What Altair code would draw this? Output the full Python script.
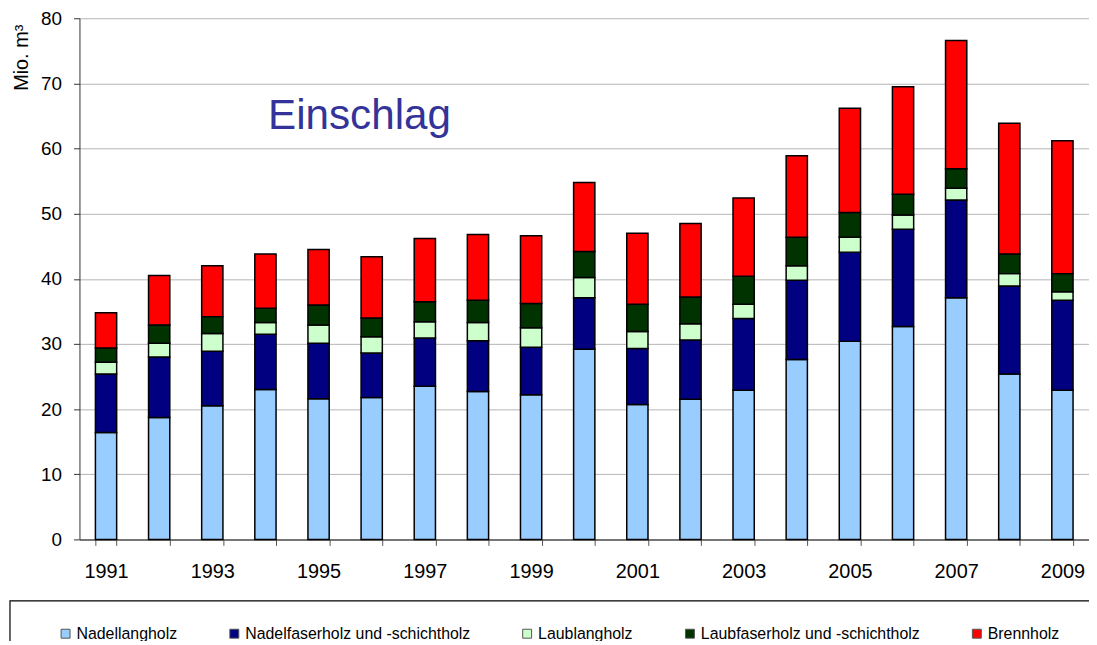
import altair as alt
import pandas as pd

years = [str(y) for y in range(1991, 2010)]
categories = ["Nadellangholz", "Nadelfaserholz und -schichtholz", "Laublangholz",
              "Laubfaserholz und -schichtholz", "Brennholz"]
colors = ["#99CCFF", "#000080", "#CCFFCC", "#003300", "#FF0000"]

nadellang = [16.4, 18.7, 20.5, 23.0, 21.6, 21.8, 23.5, 22.7, 22.2, 29.2,
             20.7, 21.5, 22.9, 27.6, 30.4, 32.7, 37.1, 25.4, 22.9]
nadelfaser = [9.0, 9.3, 8.4, 8.5, 8.5, 6.8, 7.4, 7.8, 7.3, 7.9,
              8.6, 9.1, 11.0, 12.2, 13.7, 14.9, 15.0, 13.5, 13.8]
laublang = [1.8, 2.1, 2.7, 1.8, 2.8, 2.5, 2.5, 2.8, 3.0, 3.1,
            2.6, 2.5, 2.2, 2.2, 2.3, 2.2, 1.8, 1.9, 1.3]
laubfaser = [2.2, 2.8, 2.6, 2.2, 3.1, 2.9, 3.1, 3.4, 3.7, 4.0,
             4.2, 4.1, 4.3, 4.4, 3.8, 3.2, 3.0, 3.0, 2.8]
brennholz = [5.4, 7.6, 7.8, 8.3, 8.5, 9.4, 9.7, 10.1, 10.4, 10.6,
             10.9, 11.3, 12.0, 12.5, 16.0, 16.5, 19.7, 20.1, 20.4]

series = [nadellang, nadelfaser, laublang, laubfaser, brennholz]
rows = []
for ci, (cat, vals) in enumerate(zip(categories, series)):
    for y, v in zip(years, vals):
        rows.append({"Jahr": y, "Sorte": cat, "Wert": v, "ord": ci})
df = pd.DataFrame(rows)

FONT = "Liberation Sans"

bars = alt.Chart(df).mark_bar(stroke="black", strokeWidth=1.5).encode(
    x=alt.X("Jahr:O", sort=years, title=None,
            scale=alt.Scale(paddingInner=0.6, paddingOuter=0.3),
            axis=alt.Axis(labelAngle=0, tickBand="extent", tickSize=6,
                          labelExpr="parseInt(datum.value) % 2 == 1 ? datum.value : ''",
                          labelFontSize=20, labelPadding=16, labelColor="black",
                          domainColor="#555555", domainWidth=1.5,
                          tickColor="#555555", grid=False)),
    y=alt.Y("Wert:Q", stack="zero",
            scale=alt.Scale(domain=[0, 80], nice=False),
            axis=alt.Axis(values=list(range(0, 81, 10)), title="Mio. m³",
                          titleFontSize=20, titleFontWeight="normal", titleColor="black",
                          titleAngle=270, titleAlign="right", titleBaseline="middle",
                          titleX=-58, titleY=6,
                          labelFontSize=19, labelPadding=12, labelColor="black",
                          tickSize=6, tickColor="#333333",
                          domainColor="#333333", domainWidth=1,
                          gridColor="#B4B4B4", gridWidth=1)),
    color=alt.Color("Sorte:N", sort=categories,
                    scale=alt.Scale(domain=categories, range=colors),
                    legend=alt.Legend(title=None, orient="none", legendX=-22, legendY=612,
                                      direction="horizontal", columns=5, columnPadding=49,
                                      symbolType="square", symbolSize=81,
                                      symbolStrokeColor="#555555", symbolStrokeWidth=1,
                                      labelFontSize=16, labelOffset=3, labelColor="black",
                                      labelLimit=500, padding=0)),
    order=alt.Order("ord:Q", sort="ascending"),
)

title_df = pd.DataFrame({"t": ["Einschlag"]})
title = alt.Chart(title_df).mark_text(
    align="left", baseline="alphabetic", fontSize=42.5, color="#333399", font=FONT
).encode(x=alt.value(190), y=alt.value(112), text="t:N")

frame_df = pd.DataFrame({"f": [1]})
frame = alt.Chart(frame_df).mark_rect(
    fillOpacity=0, stroke="black", strokeWidth=1.2, clip=False
).encode(x=alt.value(-70), x2=alt.value(1040), y=alt.value(587), y2=alt.value(660))

chart = alt.layer(bars, title, frame).properties(
    width=1017, height=525,
    autosize=alt.AutoSizeParams(type="none"),
    padding={"left": 72, "top": 8, "right": 0, "bottom": 100},
).configure(font=FONT).configure_view(strokeWidth=0)

chart.save("out.html", embed_options={"renderer": "svg", "actions": False})
